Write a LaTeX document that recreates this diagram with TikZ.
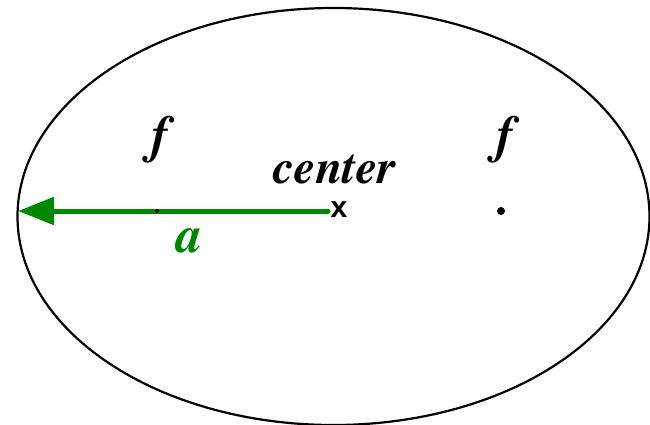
\documentclass[tikz,border=0pt]{standalone}
\usepackage[T1,TU]{fontenc}
\usepackage{fontspec}
\newfontfamily\xsans{Liberation Sans}
\newcommand{\timesbi}{\fontencoding{T1}\fontfamily{ptm}\fontseries{b}\fontshape{it}\selectfont}
\usetikzlibrary{arrows.meta,shapes.geometric}
\definecolor{agreen}{RGB}{0,135,0}
\tikzset{
  lbl/.style={font=\timesbi\fontsize{48}{50}\selectfont, inner sep=0pt, anchor=base},
  biglbl/.style={font=\timesbi\fontsize{52}{54}\selectfont, inner sep=0pt, anchor=base},
  dotmark/.style={circle, fill=black, inner sep=0pt}
}
\begin{document}
\begin{tikzpicture}[x=1pt,y=-1pt]
\useasboundingbox (0,0) rectangle (650,425);
\clip (0,0) rectangle (650,425);
\node[ellipse, draw, line width=2.2pt, minimum width=632pt, minimum height=417pt, inner sep=0pt] (E) at (333.5,216.5) {};
\coordinate (ctr) at (328,211);
\coordinate (edge) at (18,211);
\draw[agreen, line width=5pt, line cap=round, -{Triangle[length=36pt,width=27pt,line cap=butt]}] (ctr) -- (edge);
\node[dotmark, minimum size=4pt] (f1dot) at (157,211) {};
\node[dotmark, minimum size=8pt] (f2dot) at (501,211) {};
\node[biglbl] (f1) at (160,153) {f};
\node[biglbl] (f2) at (505,153) {f};
\node[lbl] (cen) at (335,183) {center};
\node[biglbl, text=agreen] (a) at (189,252) {a};
\node[font=\xsans\bfseries\fontsize{30}{32}\selectfont, inner sep=0pt] (x) at (339,210) {x};
\end{tikzpicture}
\end{document}
